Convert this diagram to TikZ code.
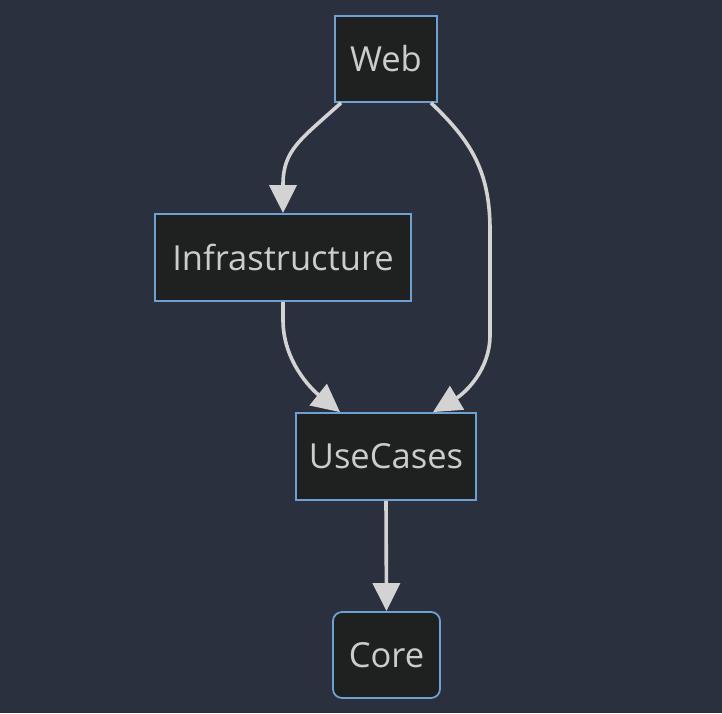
\documentclass[tikz,border=0pt]{standalone}
\usepackage{fontspec}
\setmainfont{Open Sans}
\usetikzlibrary{arrows.meta,calc}
\definecolor{bg}{RGB}{43,48,62}
\definecolor{nodefill}{RGB}{31,32,32}
\definecolor{nodeborder}{RGB}{110,160,210}
\definecolor{txt}{RGB}{204,204,204}
\definecolor{edge}{RGB}{211,211,211}
\begin{document}
\begin{tikzpicture}[x=1pt,y=-1pt,
  box/.style={draw=nodeborder,fill=nodefill,line width=1.8pt,text=txt,
    font=\fontsize{34.5}{40}\selectfont,inner sep=0pt,anchor=center},
  conn/.style={draw=edge,line width=3.6pt,-{Triangle[length=28pt,width=27pt]}}]
\fill[bg] (0,0) rectangle (722,713);
\useasboundingbox (0,0) rectangle (722,713);
\node[box,minimum width=102pt,minimum height=86pt] (web) at (386,59) {Web};
\node[box,minimum width=256pt,minimum height=87pt] (infra) at (283,257.5) {Infrastructure};
\node[box,minimum width=180pt,minimum height=87pt] (uc) at (386,456.5) {UseCases};
\node[box,rounded corners=9pt,minimum width=107pt,minimum height=86pt] (core) at (386.5,655) {Core};
\draw[conn] ($(web.south)+(-45,0)$) .. controls (300,140) and (283,150) .. (283,185) -- (infra.north);
\draw[conn] ($(web.south)+(45,0)$) .. controls (470,140) and (490,170) .. (490,230) -- (490,335) .. controls (490,370) and (465,393) .. ($(uc.north)+(47,0)$);
\draw[conn] (infra.south) -- (283,320) .. controls (283,360) and (310,388) .. ($(uc.north)+(-46,0)$);
\draw[conn] (uc.south) -- (core.north);
\end{tikzpicture}
\end{document}
